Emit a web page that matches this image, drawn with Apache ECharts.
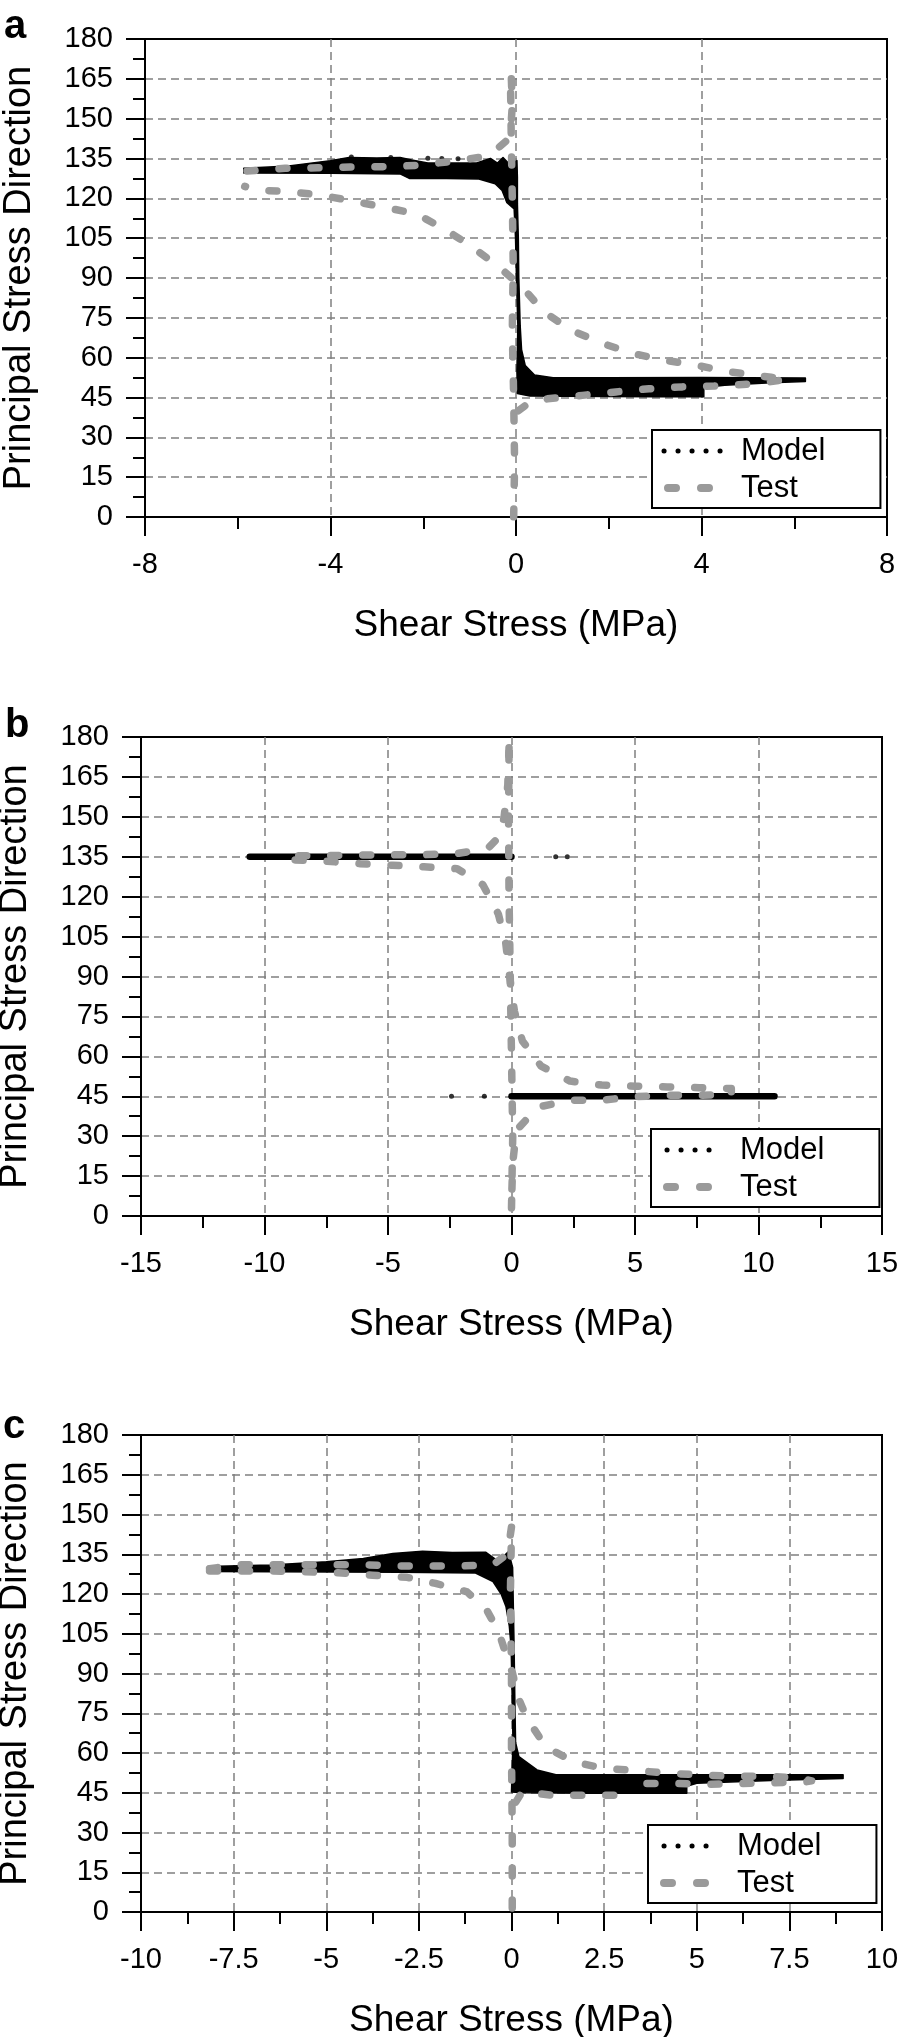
<!DOCTYPE html>
<html>
<head>
<meta charset="utf-8">
<script src="https://cdn.jsdelivr.net/npm/echarts@6/dist/echarts.min.js"></script>
<style>
html,body{margin:0;padding:0;background:#fff;}
#chart{width:898px;height:2037px;}
</style>
</head>
<body>
<div id="chart"></div>
<script>
// ---------- axis ranges [min, max, interval] ----------
const xRangeA = [-8, 8, 4];
const xRangeB = [-15, 15, 5];
const xRangeC = [-10, 10, 2.5];
const yRange = [0, 180, 15];
const panelLetters = ['a', 'b', 'c'];
const xTitle = 'Shear Stress (MPa)';
const yTitle = 'Principal Stress Direction';
const legendNames = ['Model', 'Test'];

// ---------- Panel a ----------
const modelA_left = [[-5.87,131.3],[-4.9,132.2],[-4.0,134.2],[-3.6,135.4],[-3.0,135.2],[-2.5,135.4],[-2.25,134.4],[-1.9,133.3],[-0.85,133.3],[-0.55,135.0],[-0.4,133.3],[-0.28,135.4],[-0.14,132.8],[0.02,134.2],[0.03,128],[0.03,118],[0.05,105],[0.06,90],[0.08,78],[0.09,72],[0.04,72],[0.01,90],[-0.01,105],[-0.04,116],[-0.2,118.5],[-0.3,123],[-0.45,125.5],[-0.8,127.3],[-1.5,127.5],[-2.3,127.5],[-2.5,129.2],[-4.0,129.4],[-5.87,129.5]];
const modelA_right = [[0.04,72],[0.09,72],[0.12,63],[0.2,57],[0.4,53.5],[0.8,52.4],[2.0,52.4],[4.0,52.5],[5.0,52.4],[6.24,52.3],[6.24,51.0],[5.5,50.6],[4.5,49.6],[4.05,48.8],[4.05,45.3],[3.0,45.3],[2.0,45.4],[1.0,45.5],[0.3,45.6],[0.03,46.5],[0.02,55]];
const modelA_dots = [[-3.55,135.6],[-2.7,135.4],[-1.9,135.1],[-1.6,135.0],[-1.25,134.9],[-0.85,135.2]];
const testA_loop = [[0.05,40],[0.3,43.2],[0.68,44.5],[1.43,45.8],[2.15,47.1],[2.87,48.3],[3.59,49.0],[4.27,49.3],[4.99,50.0],[5.5,51.0],[5.85,51.8],[5.5,52.6],[5.24,53.2],[4.59,54.7],[3.87,57.2],[3.19,59.1],[2.51,61.6],[1.86,65.4],[1.18,70.4],[0.6,77.3],[0.14,86.5],[-0.37,94.2],[-0.94,101.6],[-1.52,108.2],[-2.13,114.0],[-2.81,116.6],[-3.53,119.0],[-4.21,121.2],[-4.89,122.5],[-5.61,123.1],[-5.85,124.5]];
const testA_upper = [[-5.8,130.3],[-4.98,131.3],[-4.28,131.5],[-3.58,131.8],[-2.87,131.9],[-2.16,132.4],[-1.48,133.7],[-0.8,135.4],[-0.45,138.0],[-0.19,141.9],[-0.11,147.0],[-0.08,155.0],[-0.1,165.0]];
const testA_vertical = [[-0.05,0],[-0.03,20],[-0.05,45],[-0.08,70],[-0.06,95],[-0.08,120],[-0.1,140],[-0.12,165]];

// ---------- Panel b ----------
const modelB_upperLine = [[-10.6,135],[0,135]];
const modelB_lowerLine = [[0,45],[10.65,45]];
const modelB_dots = [[1.79,135],[2.26,135],[-2.43,45],[-1.1,45]];
const testB_loop = [[-8.76,133.8],[-7.48,133.3],[-6.13,132.4],[-4.81,131.8],[-3.55,131.2],[-2.2,130.5],[-1.16,124.5],[-0.53,113.4],[-0.23,102.3],[-0.07,89.6],[0.12,76.9],[0.44,65.8],[1.2,56.3],[2.37,50.7],[3.65,49.2],[5.0,48.8],[6.3,48.5],[7.6,48.2],[8.9,47.9],[8.9,45.5],[7.6,45.4],[6.3,45.4],[5.0,44.8],[3.64,43.5],[2.35,43.5],[1.07,40.9],[0.2,32.2],[0.05,20],[0.0,5]];
const testB_upper = [[-0.1,176],[-0.15,162],[-0.3,150],[-0.45,143],[-0.95,138.2],[-2.2,136.2],[-3.55,135.8],[-4.81,135.7],[-6.13,135.7],[-7.48,135.4],[-8.76,135.4]];
const testB_vertical = [[0.0,3],[0.05,30],[0.0,60],[-0.05,90],[-0.1,120],[-0.12,150],[-0.1,176]];

// ---------- Panel c ----------
const modelC_left = [[-8.2,130.4],[-6.5,130.9],[-5.0,132.2],[-4.0,133.4],[-3.2,135.3],[-2.4,136.1],[-1.6,135.7],[-0.7,135.8],[-0.4,132.8],[-0.2,134.4],[-0.08,136.0],[0.03,130],[0.05,115],[0.07,100],[0.09,80],[0.11,64],[0.04,64],[0.02,80],[-0.01,100],[-0.06,108],[-0.15,115.3],[-0.28,120],[-0.5,124.7],[-0.97,127.9],[-3.0,128.2],[-8.2,128.5]];
const modelC_right = [[0.04,64],[0.11,64],[0.2,58.6],[0.69,53.6],[1.2,51.8],[3.0,51.8],[6.0,51.8],[8.95,51.8],[8.95,50.4],[7.0,49.6],[5.0,48.6],[4.73,47.4],[4.73,44.8],[2.0,44.8],[0.3,45.0],[0.0,45.3],[0.02,55]];
const testC_upper = [[-8.15,129.5],[-7.45,131],[-6.53,131],[-5.76,131],[-4.83,131],[-3.9,131],[-3.06,130.6],[-2.13,130.6],[-1.28,130.6],[-0.5,131],[-0.2,134.2],[-0.05,140.5],[0.0,145.3]];
const testC_loop = [[-8.15,128.7],[-7.3,128.7],[-6.45,128.7],[-5.6,128.4],[-4.68,128.0],[-3.75,127.1],[-2.82,126.3],[-2.05,124.0],[-1.2,120.8],[-0.66,113.7],[-0.35,105.8],[-0.2,99.5],[0.03,90],[0.19,80.5],[0.42,73.1],[0.92,62.4],[1.67,56.7],[2.49,54.2],[3.43,53.3],[4.28,52.3],[5.13,51.7],[6.03,51.2],[6.93,51.2],[7.78,50.5],[8.1,49.5],[7.97,49.2],[7.08,48.8],[6.18,48.5],[5.32,48.2],[4.46,48.5],[3.57,48.5]];
const testC_lower = [[2.76,44.1],[1.9,44.1],[1.05,44.1],[0.29,45.4],[0.05,40]];
const testC_vertical = [[0.02,1.5],[0.02,30],[0.0,60],[0.0,90],[-0.03,120],[0.0,145]];

// ---------- styling / layout ----------
const FONT = '"Liberation Sans", Arial, Helvetica, sans-serif';
const GRAY = '#9a9a9a';

function makeX(grid, r) {
  return {
    type: 'value', gridIndex: grid, min: r[0], max: r[1], interval: r[2],
    axisLine: {show: true, onZero: false, lineStyle: {color: '#000', width: 2}},
    axisTick: {show: true, inside: false, length: 19, lineStyle: {color: '#000', width: 2}},
    minorTick: {show: true, splitNumber: 2, length: 12, lineStyle: {color: '#000', width: 2}},
    axisLabel: {fontSize: 29, color: '#000', fontFamily: FONT, margin: 33, showMinLabel: true, showMaxLabel: true},
    splitLine: {show: true, showMinLine: false, showMaxLine: false, lineStyle: {color: '#808080', width: 1.5, type: [8, 5]}},
    minorSplitLine: {show: false},
    name: xTitle, nameLocation: 'middle', nameGap: 90,
    nameTextStyle: {fontSize: 37, color: '#000', fontFamily: FONT}
  };
}
function makeY(grid) {
  return {
    type: 'value', gridIndex: grid, min: yRange[0], max: yRange[1], interval: yRange[2],
    axisLine: {show: true, onZero: false, lineStyle: {color: '#000', width: 2}},
    axisTick: {show: true, inside: false, length: 19, lineStyle: {color: '#000', width: 2}},
    minorTick: {show: true, splitNumber: 2, length: 12, lineStyle: {color: '#000', width: 2}},
    axisLabel: {fontSize: 29, color: '#000', fontFamily: FONT, margin: 32, showMinLabel: true, showMaxLabel: true},
    splitLine: {show: true, showMinLine: false, showMaxLine: false, lineStyle: {color: '#808080', width: 1.5, type: [8, 5]}},
    minorSplitLine: {show: false},
    name: yTitle, nameLocation: 'middle', nameGap: 106,
    nameTextStyle: {fontSize: 38, color: '#000', fontFamily: FONT}
  };
}
function gridCfg(left, top, width, height) {
  return {left, top, width, height, show: true, borderColor: '#000', borderWidth: 2,
    backgroundColor: 'transparent', containLabel: false, outerBoundsMode: 'none'};
}
function legendCfg(left, top) {
  return {
    left, top, orient: 'vertical', selectedMode: false,
    borderColor: '#000', borderWidth: 2, backgroundColor: '#fff',
    padding: [5, 55, 4, 8], itemGap: 5, itemWidth: 57, itemHeight: 10,
    textStyle: {fontSize: 31, color: '#000', fontFamily: FONT, lineHeight: 32, padding: [0, 0, 0, 15]},
    data: [
      {name: legendNames[0], itemStyle: {opacity: 0},
       lineStyle: {color: '#000', width: 5, type: [0.1, 13.9], cap: 'round'}},
      {name: legendNames[1], itemStyle: {opacity: 0},
       lineStyle: {color: GRAY, width: 8, type: [8, 25], cap: 'round', dashOffset: -4}}
    ]
  };
}
function modelLine(grid, data) {
  return {type: 'line', name: 'Model', xAxisIndex: grid, yAxisIndex: grid, data,
    symbol: 'none', showSymbol: false, silent: true, z: 2,
    lineStyle: {color: '#000', width: 6.5, type: 'solid', cap: 'round'}};
}
function modelPoly(grid, polys) {
  return {type: 'custom', name: 'Model', xAxisIndex: grid, yAxisIndex: grid, silent: true, z: 2, clip: true,
    data: polys.map(p => p[0]),
    renderItem: function (params, api) {
      const pts = polys[params.dataIndex].map(p => api.coord(p));
      return {type: 'polygon', shape: {points: pts},
        style: {fill: '#000', stroke: '#000', lineWidth: 1.5, lineJoin: 'round'}};
    }};
}
function modelDots(grid, data) {
  return {type: 'scatter', name: 'Model', xAxisIndex: grid, yAxisIndex: grid, data,
    symbol: 'circle', symbolSize: 5, silent: true, z: 2, itemStyle: {color: '#000'}};
}
function testLine(grid, data) {
  return {type: 'line', name: 'Test', xAxisIndex: grid, yAxisIndex: grid, data,
    symbol: 'none', showSymbol: false, silent: true, z: 4, clip: true,
    lineStyle: {color: GRAY, width: 7.5, type: [8, 24], cap: 'round', join: 'round'}};
}
function letter(ch, x, y) {
  return {type: 'text', x, y, silent: true,
    style: {text: ch, font: 'bold 40px ' + FONT, fill: '#000', verticalAlign: 'middle', align: 'left'}};
}

const option = {
  animation: false,
  backgroundColor: '#fff',
  grid: [gridCfg(145, 39, 742, 478), gridCfg(141, 737, 741, 479), gridCfg(141, 1435, 741, 477)],
  xAxis: [makeX(0, xRangeA), makeX(1, xRangeB), makeX(2, xRangeC)],
  yAxis: [makeY(0), makeY(1), makeY(2)],
  legend: [legendCfg(652, 430), legendCfg(651, 1129), legendCfg(648, 1825)],
  graphic: [letter(panelLetters[0], 4, 27), letter(panelLetters[1], 5, 726), letter(panelLetters[2], 3, 1427)],
  series: [
    modelLine(1, modelB_upperLine),
    modelLine(1, modelB_lowerLine),
    modelDots(1, modelB_dots),
    modelPoly(0, [modelA_left, modelA_right]),
    modelDots(0, modelA_dots),
    modelPoly(2, [modelC_left, modelC_right]),
    testLine(0, testA_vertical),
    testLine(0, testA_loop),
    testLine(0, testA_upper),
    testLine(1, testB_vertical),
    testLine(1, testB_loop),
    testLine(1, testB_upper),
    testLine(2, testC_vertical),
    testLine(2, testC_upper),
    testLine(2, testC_loop),
    testLine(2, testC_lower)
  ]
};
const chart = echarts.init(document.getElementById('chart'), null, {renderer: 'canvas'});
chart.setOption(option);
</script>
</body>
</html>
